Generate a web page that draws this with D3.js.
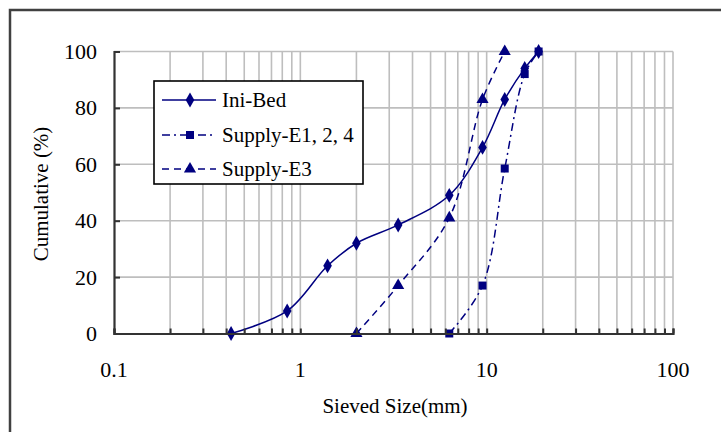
<!DOCTYPE html>
<html>
<head>
<meta charset="utf-8">
<script src="https://cdn.jsdelivr.net/npm/d3@7"></script>
<style>
  body { margin: 0; background: #fff; }
</style>
</head>
<body>
<svg id="chart" width="721" height="432" font-family="'Liberation Serif', 'Times New Roman', 'DejaVu Serif', serif"></svg>
<script>
// sieve sizes (mm) and cumulative passing (%)
const iniBedSize = [0.425, 0.85, 1.4, 2.0, 3.35, 6.3, 9.5, 12.5, 16, 19];
const iniBedPct = [0, 8, 24, 32, 38.5, 49, 66, 83, 94, 100];
const supply124Size = [6.3, 9.5, 12.5, 16, 19];
const supply124Pct = [0, 17, 58.5, 92, 100];
const supplyE3Size = [2.0, 3.35, 6.3, 9.5, 12.5];
const supplyE3Pct = [0, 17, 41, 83, 100];

const xTickValues = [0.1, 1, 10, 100];
const yTickValues = [0, 20, 40, 60, 80, 100];
const seriesNames = ['Ini-Bed', 'Supply-E1, 2, 4', 'Supply-E3'];

const navy = '#000080';
const margin = { left: 114, right: 673, top: 51.5, bottom: 333.5 };

const svg = d3.select('#chart');

// outer chart frame (runs off the right and bottom edges)
svg.append('rect')
  .attr('x', 10).attr('y', 10)
  .attr('width', 800).attr('height', 500)
  .attr('fill', 'none')
  .attr('stroke', '#404040')
  .attr('stroke-width', 2.5);

const x = d3.scaleLog().domain([0.1, 100]).range([margin.left, margin.right]);
const y = d3.scaleLinear().domain([0, 100]).range([margin.bottom, margin.top]);

// minor positions for the log grid
const minor = [];
[0.1, 1, 10].forEach(d => {
  for (let k = 1; k <= 9; k++) minor.push(d * k);
});
minor.push(100);

// grid
svg.append('g')
  .selectAll('line')
  .data(minor.filter(d => d > 0.1))
  .join('line')
  .attr('x1', d => x(d)).attr('x2', d => x(d))
  .attr('y1', y(0)).attr('y2', y(100))
  .attr('stroke', '#bebebe')
  .attr('stroke-width', 1.6);

svg.append('g')
  .selectAll('line')
  .data(yTickValues.filter(d => d > 0))
  .join('line')
  .attr('x1', x(0.1)).attr('x2', x(100))
  .attr('y1', d => y(d)).attr('y2', d => y(d))
  .attr('stroke', '#bebebe')
  .attr('stroke-width', 1.6);

// series
const series = [
  { name: seriesNames[0], xs: iniBedSize, ys: iniBedPct, dash: null, marker: d3.symbolDiamond, size: 64 },
  { name: seriesNames[1], xs: supply124Size, ys: supply124Pct, dash: '8,4,2,4', marker: d3.symbolSquare, size: 64 },
  { name: seriesNames[2], xs: supplyE3Size, ys: supplyE3Pct, dash: '7,5', marker: d3.symbolTriangle, size: 64 }
];

const line = d3.line()
  .x(d => x(d[0]))
  .y(d => y(d[1]))
  .curve(d3.curveCatmullRom.alpha(0.5));

series.forEach(s => {
  const pts = s.xs.map((v, i) => [v, s.ys[i]]);
  svg.append('path')
    .datum(pts)
    .attr('fill', 'none')
    .attr('stroke', navy)
    .attr('stroke-width', 1.5)
    .attr('stroke-dasharray', s.dash)
    .attr('d', line);
  svg.append('g')
    .selectAll('path')
    .data(pts)
    .join('path')
    .attr('transform', d => 'translate(' + x(d[0]) + ',' + y(d[1]) + ')')
    .attr('d', d3.symbol().type(s.marker).size(s.size))
    .attr('fill', navy);
});

// axes: inside ticks
const xAxis = svg.append('g').attr('transform', 'translate(0,' + y(0) + ')');
xAxis.call(d3.axisBottom(x).tickValues(minor).tickSize(-5).tickFormat(''));
xAxis.select('.domain').attr('stroke', '#333').attr('stroke-width', 2.2);
xAxis.selectAll('.tick line').attr('stroke', '#333').attr('stroke-width', 2);

const yAxis = svg.append('g').attr('transform', 'translate(' + x(0.1) + ',0)');
yAxis.call(d3.axisLeft(y).tickValues(yTickValues).tickSize(-6).tickFormat(''));
yAxis.select('.domain').attr('stroke', '#333').attr('stroke-width', 2.2);
yAxis.selectAll('.tick line').attr('stroke', '#333').attr('stroke-width', 2);

const font = "'Liberation Serif', 'Times New Roman', serif";

// tick labels
svg.append('g')
  .selectAll('text')
  .data(xTickValues)
  .join('text')
  .attr('x', d => x(d))
  .attr('y', 377)
  .attr('text-anchor', 'middle')
  .attr('font-family', font)
  .attr('font-size', 22)
  .text(d => d);

svg.append('g')
  .selectAll('text')
  .data(yTickValues)
  .join('text')
  .attr('x', 97)
  .attr('y', d => y(d) + 7.5)
  .attr('text-anchor', 'end')
  .attr('font-family', font)
  .attr('font-size', 22)
  .text(d => d);

// axis titles
svg.append('text')
  .attr('x', 395).attr('y', 413)
  .attr('text-anchor', 'middle')
  .attr('font-family', font)
  .attr('font-size', 21)
  .text('Sieved Size(mm)');

svg.append('text')
  .attr('transform', 'translate(48,194) rotate(-90)')
  .attr('text-anchor', 'middle')
  .attr('font-family', font)
  .attr('font-size', 21)
  .text('Cumulative (%)');

// legend
const legend = svg.append('g');
legend.append('rect')
  .attr('x', 154).attr('y', 81)
  .attr('width', 209).attr('height', 103)
  .attr('fill', '#fff')
  .attr('stroke', '#000')
  .attr('stroke-width', 1.6);

const rowY = [100, 135, 169];
series.forEach((s, i) => {
  const g = legend.append('g').attr('transform', 'translate(0,' + rowY[i] + ')');
  g.append('line')
    .attr('x1', 162).attr('x2', 216)
    .attr('stroke', navy)
    .attr('stroke-width', 1.5)
    .attr('stroke-dasharray', s.dash);
  g.append('path')
    .attr('transform', 'translate(190,0)')
    .attr('d', d3.symbol().type(s.marker).size(s.size))
    .attr('fill', navy);
  g.append('text')
    .attr('x', 222).attr('y', 7)
    .attr('font-family', font)
    .attr('font-size', 21)
    .text(s.name);
});
</script>
</body>
</html>
